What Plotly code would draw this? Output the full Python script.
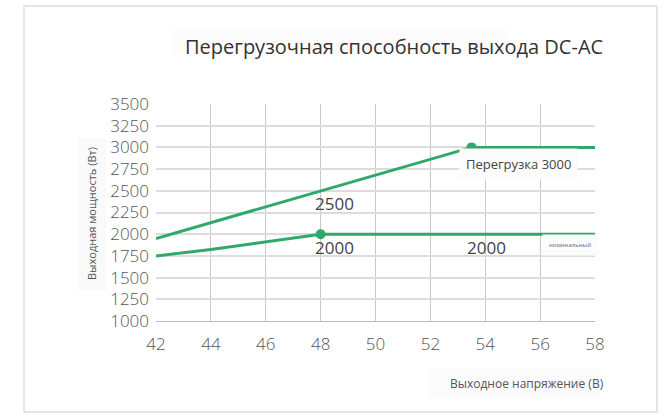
import plotly.graph_objects as go

# Output voltage (V) and output power (W)
overload_v = [42, 48, 53.5, 58]
overload_w = [1950, 2500, 3000, 3000]
nominal_v = [42, 44, 48, 58]
nominal_w = [1750, 1825, 2000, 2000]

x_ticks = [42, 44, 46, 48, 50, 52, 54, 56, 58]
y_ticks = [1000, 1250, 1500, 1750, 2000, 2250, 2500, 2750, 3000, 3250, 3500]

title_text = "Перегрузочная способность выхода DC-AC"
x_title = "Выходное напряжение (В)"
y_title = "Выходная мощность (Вт)"

GREEN = "#2fa96b"
FONT = "Open Sans"

fig = go.Figure()

fig.add_trace(go.Scatter(
    x=overload_v, y=overload_w, mode="lines",
    line=dict(color=GREEN, width=3), hoverinfo="skip", showlegend=False,
))
fig.add_trace(go.Scatter(
    x=nominal_v, y=nominal_w, mode="lines",
    line=dict(color=GREEN, width=3), hoverinfo="skip", showlegend=False,
))
# Marked points: overload onset and nominal onset
fig.add_trace(go.Scatter(
    x=[overload_v[2], nominal_v[2]], y=[overload_w[2], nominal_w[2]],
    mode="markers", marker=dict(color=GREEN, size=10),
    hoverinfo="skip", showlegend=False,
))

# Plot area geometry in pixels (for placing outside elements)
L, R, T, B = 156, 72, 104, 92
W, H = 667, 413
PW, PH = W - L - R, H - T - B


def px(x):
    return (x - L) / PW


def py(y):
    return (H - B - y) / PH


shapes = [
    # outer frame
    dict(type="rect", xref="paper", yref="paper",
         x0=px(24), x1=px(657), y0=py(412), y1=py(6),
         line=dict(color="#dddddd", width=1.5), fillcolor="rgba(0,0,0,0)"),
    # faint title background
    dict(type="rect", xref="paper", yref="paper",
         x0=px(172), x1=px(508), y0=py(53), y1=py(28),
         line=dict(width=0), fillcolor="#fcfcfc", layer="below"),
    # axis title backgrounds
    dict(type="rect", xref="paper", yref="paper",
         x0=px(78), x1=px(106), y0=py(290), y1=py(138),
         line=dict(width=0), fillcolor="#fafafa", layer="below"),
    dict(type="rect", xref="paper", yref="paper",
         x0=px(428), x1=px(600), y0=py(398), y1=py(369),
         line=dict(width=0), fillcolor="#fbfbfb", layer="below"),
]

annotations = [
    dict(text=title_text, xref="paper", yref="paper", x=px(394), y=py(47),
         xanchor="center", yanchor="middle", showarrow=False,
         font=dict(family=FONT, size=20, color="#333333")),
    dict(text=y_title, xref="paper", yref="paper", x=px(91), y=py(214),
         xanchor="center", yanchor="middle", textangle=-90, showarrow=False,
         font=dict(family=FONT, size=11, color="#555555")),
    dict(text=x_title, xref="paper", yref="paper", x=px(527), y=py(383),
         xanchor="center", yanchor="middle", showarrow=False,
         font=dict(family=FONT, size=12, color="#555555")),
    # value labels
    dict(text=str(overload_w[1]), x=47.72, y=2348, xanchor="left", yanchor="middle",
         showarrow=False, font=dict(family=FONT, size=17, color="#444444")),
    dict(text=str(nominal_w[2]), x=47.72, y=1852, xanchor="left", yanchor="middle",
         showarrow=False, font=dict(family=FONT, size=17, color="#444444")),
    dict(text=str(nominal_w[3]), x=53.26, y=1852, xanchor="left", yanchor="middle",
         showarrow=False, font=dict(family=FONT, size=17, color="#444444")),
    dict(text="Перегрузка " + str(overload_w[2]), x=55.2, y=2809,
         xanchor="center", yanchor="middle", showarrow=False,
         bgcolor="#fcfcfc", borderpad=6,
         font=dict(family=FONT, size=13, color="#444444")),
    dict(text="номинальный", x=57.1, y=1880, xanchor="center", yanchor="middle",
         showarrow=False, bgcolor="#fcfcfc", borderpad=6,
         font=dict(family=FONT, size=6, color="#666666")),
]

fig.update_layout(
    width=W, height=H,
    margin=dict(l=L, r=R, t=T, b=B, pad=0),
    paper_bgcolor="white", plot_bgcolor="white",
    shapes=shapes, annotations=annotations,
    showlegend=False,
)

fig.update_xaxes(
    range=[42, 58], tickvals=x_ticks, ticktext=[str(v) for v in x_ticks],
    showgrid=True, gridcolor="#c8c8c8", gridwidth=1,
    showline=True, linecolor="#bbbbbb", linewidth=1, mirror=False,
    zeroline=False, ticks="", ticklabelstandoff=8,
    tickfont=dict(family=FONT, size=17, color="#555555", weight=300),
)
fig.update_yaxes(
    range=[1000, 3500], tickvals=y_ticks, ticktext=[str(v) for v in y_ticks],
    showgrid=True, gridcolor="#dcdcdc", gridwidth=1.5,
    showline=False, zeroline=False, ticks="", ticklabelstandoff=6,
    tickfont=dict(family=FONT, size=17, color="#555555", weight=300),
)

fig.write_html("out.html")
